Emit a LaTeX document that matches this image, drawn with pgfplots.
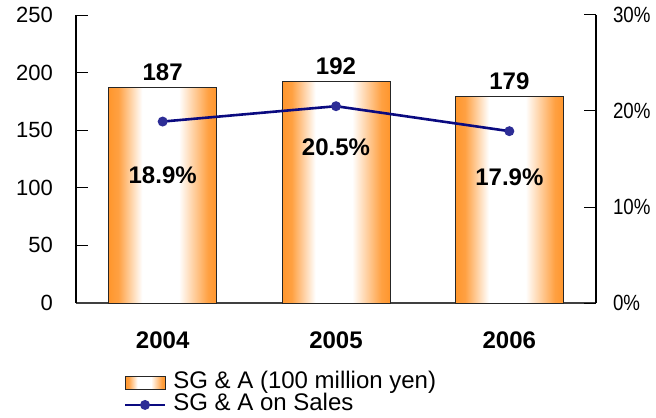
\documentclass[border=0pt]{standalone}
\usepackage{pgfplots}
\pgfplotsset{compat=1.18}
\usepackage{fontspec}
\setmainfont{Liberation Sans}

\definecolor{barorange}{RGB}{255,150,45}
\definecolor{linenavy}{RGB}{10,10,128}
\definecolor{marknavy}{RGB}{45,45,150}

% orange at both edges, white through the middle of each bar
% (the filled path covers the 25bp..75bp part of the shading)
\pgfdeclarehorizontalshading{barshade}{100bp}{%
  color(0bp)=(barorange); color(25bp)=(barorange); color(29.5bp)=(barorange!90);
  color(40.5bp)=(white); color(57.5bp)=(white);
  color(71bp)=(barorange!90); color(75bp)=(barorange); color(100bp)=(barorange)}

\pgfplotsset{
  bar box legend/.style={legend image code/.code={%
    \path[draw=black!85, line width=0.5pt, shading=barshade]
      (0pt,-3.3pt) rectangle (20pt,3.3pt);}},
  short line legend/.style={legend image code/.code={%
    \draw[mark repeat=2, mark phase=2]
      plot coordinates {(0pt,0pt) (10pt,0pt) (20pt,0pt)};}},
  sgabar/.style={ybar, bar width=54pt, bar shift=0pt,
    draw=black!85, line width=0.5pt, shading=barshade,
    nodes near coords,
    every node near coord/.append style={font=\fontsize{12}{14}\selectfont\bfseries, black}},
}

\begin{document}
\begin{tikzpicture}
\path[use as bounding box] (-38pt,-57pt) rectangle (290pt,151.5pt);

% SG & A amounts (left axis)
\begin{axis}[
  at={(0,0)}, anchor=south west,
  scale only axis, width=260pt, height=144pt,
  xmin=-0.5, xmax=2.5,
  ymin=0, ymax=250,
  ytick={0,50,...,250},
  xtick={0,1,2},
  xticklabels={2004,2005,2006},
  xticklabel style={font=\fontsize{12}{14}\selectfont\bfseries, yshift=-11pt},
  yticklabel style={font=\fontsize{11}{13}\selectfont, xshift=-8pt},
  /pgf/number format/assume math mode=true,
  axis x line*=bottom, axis y line*=left,
  x axis line style={draw=black!75, line width=0.7pt, -},
  y axis line style={line width=0.6pt, -},
  major tick length=6pt,
  ytick style={black, line width=0.5pt},
  xtick style={draw=none},
  tick align=inside,
  legend style={at={(0.091,-0.238)}, anchor=north west, draw=none, fill=none,
    font=\fontsize{12}{11}\selectfont, inner sep=0pt, row sep=0pt,
    nodes={inner xsep=3.5pt, inner ysep=0pt, text height=8.5pt, text depth=2.5pt}},
  legend cell align=left,
]
% one bar per plot so that each bar gets its own shading
\addplot[sgabar, bar box legend] coordinates {(0,187)};
\addlegendentry{SG \& A (100 million yen)}
\addplot[sgabar, forget plot] coordinates {(1,192)};
\addplot[sgabar, forget plot] coordinates {(2,179)};
\addlegendimage{linenavy, line width=1.3pt, mark=*,
  mark options={fill=marknavy, draw=marknavy, scale=0.9}, short line legend}
\addlegendentry{SG \& A on Sales}

% ratio labels inside the bars
\node[font=\fontsize{12}{14}\selectfont\bfseries] at (axis cs:0,111) {18.9\%};
\node[font=\fontsize{12}{14}\selectfont\bfseries] at (axis cs:1,135.5) {20.5\%};
\node[font=\fontsize{12}{14}\selectfont\bfseries] at (axis cs:2,109) {17.9\%};
\end{axis}

% SG & A on sales (right axis)
\begin{axis}[
  at={(0,0)}, anchor=south west,
  scale only axis, width=260pt, height=144pt,
  xmin=-0.5, xmax=2.5,
  ymin=0, ymax=0.30,
  ytick={0,0.1,0.2,0.3},
  yticklabel={\scalebox{0.85}[1]{\pgfmathparse{100*\tick}\pgfmathprintnumber[fixed,precision=0]{\pgfmathresult}\%}},
  yticklabel style={font=\fontsize{11}{13}\selectfont, xshift=5pt},
  /pgf/number format/assume math mode=true,
  axis y line*=right, axis x line=none,
  y axis line style={line width=0.6pt, -},
  major tick length=6pt,
  ytick style={black, line width=0.5pt},
  tick align=inside,
]
\addplot[linenavy, line width=1.3pt, mark=*,
  mark options={fill=marknavy, draw=marknavy, scale=0.9}]
  coordinates {(0,0.189) (1,0.205) (2,0.179)};
\end{axis}
\end{tikzpicture}
\end{document}
